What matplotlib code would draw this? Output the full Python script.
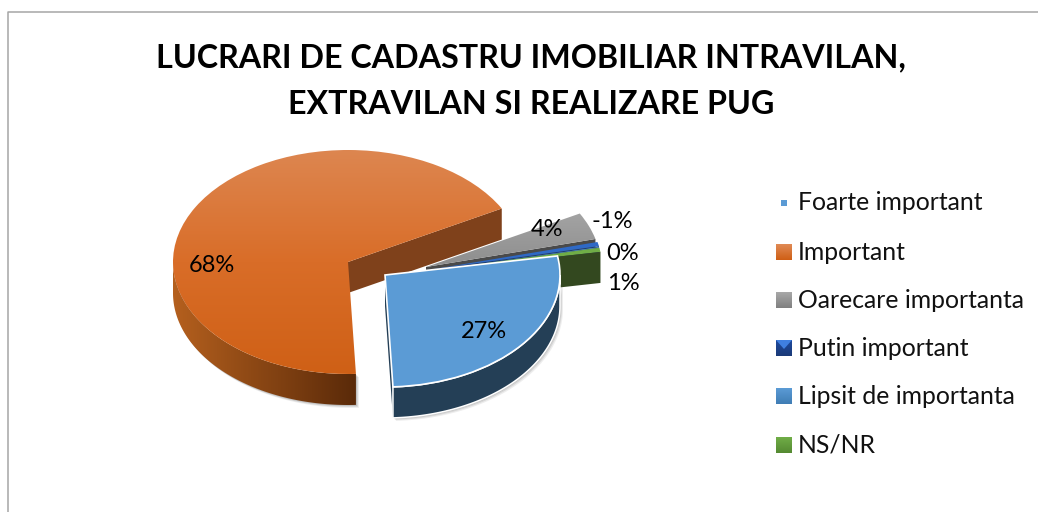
# 3D-look exploded pie, cadastre survey answers
import numpy as np
import matplotlib
matplotlib.use("Agg")
import matplotlib.pyplot as plt
from matplotlib.colors import LinearSegmentedColormap
from matplotlib.patches import Polygon

plt.rcParams["font.family"] = ["Lato", "DejaVu Sans"]

categories = ["Foarte important", "Important", "Oarecare importanta",
              "Putin important", "Lipsit de importanta", "NS/NR"]
values = [27.0, 67.8, 3.9, -0.6, 0.1, 0.6]
title = "LUCRARI DE CADASTRU IMOBILIAR INTRAVILAN,\nEXTRAVILAN SI REALIZARE PUG"

W, H = 1038, 512
RX, RY, DEPTH = 175, 112, 31
START = 9.8

# slice style, pixel position of each apex
centers = [(385, 275), (348, 262), (426, 267), (428, 270), (428, 271), (428, 271)]
tops = ["#5B9BD5", "#D96C28", "#9C9C9C", "#2E69C6", "#5B9BD5", "#70AD47"]
walls = ["#243F56", "#7F411B", "#4A4A4A", "#1C3B73", "#243F56", "#33481F"]
label_pos = [(484, 332), (212, 266), (547, 230), (612, 222), (623, 254), (623, 283)]
legend_y = [203, 252, 300, 348, 396, 445]
swatches = [("#5B9BD5", "#5B9BD5"), ("#E08A55", "#CF5F15"), ("#A8A8A8", "#808080"),
            ("#1E4A9E", "#1B3A78"), ("#5B9BD5", "#3F7DB5"), ("#70AD47", "#558A32")]


def ramp(*cols):
    return LinearSegmentedColormap.from_list("r", list(cols))


def to_data(x, y):
    return x / RX, (H - y) / RY


fig = plt.figure(figsize=(W / 100, H / 100), dpi=100)
fig.patch.set_facecolor("white")
ax = fig.add_axes([0, 0, 1, 1])
sizes = np.abs(values)
wedges, _ = ax.pie(sizes, startangle=START, counterclock=False, radius=1)
ax.set_aspect("auto")
d = DEPTH / RY


def outer_wall(c, t1, t2):
    th = np.radians(np.linspace(t1, t2, 120))
    x = c[0] + np.cos(th)
    y = c[1] + np.sin(th)
    return np.r_[np.c_[x, y], np.c_[x[::-1], y[::-1] - d]]


def face_wall(c, t):
    x, y = c[0] + np.cos(np.radians(t)), c[1] + np.sin(np.radians(t))
    return np.array([c, (x, y), (x, y - d), (c[0], c[1] - d)])


def shadow(xy, z):
    for off, al in [(3, 0.10), (2, 0.14), (1, 0.18)]:
        pts = xy + np.array([off / RX, -off / RY])
        ax.add_patch(Polygon(pts, fc="#555555", ec="none", alpha=al, zorder=z))


for i, wd in enumerate(wedges):
    c = to_data(*centers[i])
    wd.set_center(c)
    t1, t2 = wd.theta1, wd.theta2
    z = 10 + i * 5 if i >= 2 else (40 if i == 1 else 50)
    wd.set_facecolor(tops[i])
    wd.set_edgecolor("none")
    wd.set_zorder(z + 2)

    # side faces that look at the viewer
    if np.cos(np.radians(t1)) > 0:
        ax.add_patch(Polygon(face_wall(c, t1), fc=walls[i], ec="none",
                             zorder=z + 3 if i == 5 else z))

    if i == 0:
        arc = outer_wall(c, t1, 0)
        shadow(np.r_[arc, face_wall(c, t1)], z - 1)
        ax.add_patch(Polygon(arc, fc=walls[0], ec="white", lw=1.1, zorder=z))
        wd.set_edgecolor("white")
        wd.set_linewidth(1.2)
    if i == 1:
        end = t2 % 360
        arc = outer_wall(c, 180, end)
        shadow(arc, z - 1)
        p = Polygon(arc, fc="none", ec="none", zorder=z)
        ax.add_patch(p)
        im = ax.imshow(np.linspace(0, 1, 256)[None, :], cmap=ramp("#B5601E", "#5A2A09"),
                       extent=(c[0] - 1, c[0] + np.cos(np.radians(end)), c[1] - 2, c[1] + 1),
                       aspect="auto", zorder=z)
        im.set_clip_path(p)
        wd.set_facecolor("none")
        im2 = ax.imshow(np.linspace(0, 1, 256)[:, None],
                        cmap=ramp("#DD8650", "#D96D28", "#CF6016"),
                        extent=(c[0] - 1, c[0] + 1, c[1] - 1, c[1] + 1),
                        aspect="auto", zorder=z + 2)
        im2.set_clip_path(wd)
    if i == 2:
        wd.set_facecolor("none")
        im3 = ax.imshow(np.linspace(0, 1, 64)[:, None], cmap=ramp("#A6A6A6", "#8E8E8E"),
                        extent=(c[0], c[0] + 1, c[1], c[1] + 0.55),
                        aspect="auto", zorder=z + 2)
        im3.set_clip_path(wd)

ax.set_xlim(0, W / RX)
ax.set_ylim(0, H / RY)

# overlay in pixel units for frame, texts and legend
ov = fig.add_axes([0, 0, 1, 1], facecolor="none")
ov.axis("off")
ov.plot([8, 8, W], [H, 12, 12], color="#A6A6A6", lw=1.1, zorder=1)

ov.text(531, 81, title, ha="center", va="center", fontsize=23.2, fontweight="bold",
        color="black", linespacing=1.76)

for v, (x, y) in zip(values, label_pos):
    ov.text(x, y, f"{v:.0f}%", ha="center", va="center", fontsize=17, color="black")

for i, name in enumerate(categories):
    y = legend_y[i]
    half = 3 if i == 0 else 8
    x0 = 784 - half
    ov.imshow(np.linspace(0, 1, 32)[:, None], cmap=ramp(*swatches[i]),
              extent=(x0, x0 + 2 * half, y + half, y - half), aspect="auto", zorder=2)
    if name == "Putin important":
        # bevelled swatch: lighter triangle coming down from the top edge
        ov.add_patch(Polygon([(x0, y - half), (x0 + 2 * half, y - half), (x0 + half, y + 1)],
                             fc="#3F7FE0", ec="none", zorder=3))
    ov.text(798, y + 7.5, name, ha="left", va="baseline", fontsize=17.85, color="#111111")
ov.set_xlim(0, W)
ov.set_ylim(H, 0)

fig.savefig("out.png", dpi=100, facecolor="white")
